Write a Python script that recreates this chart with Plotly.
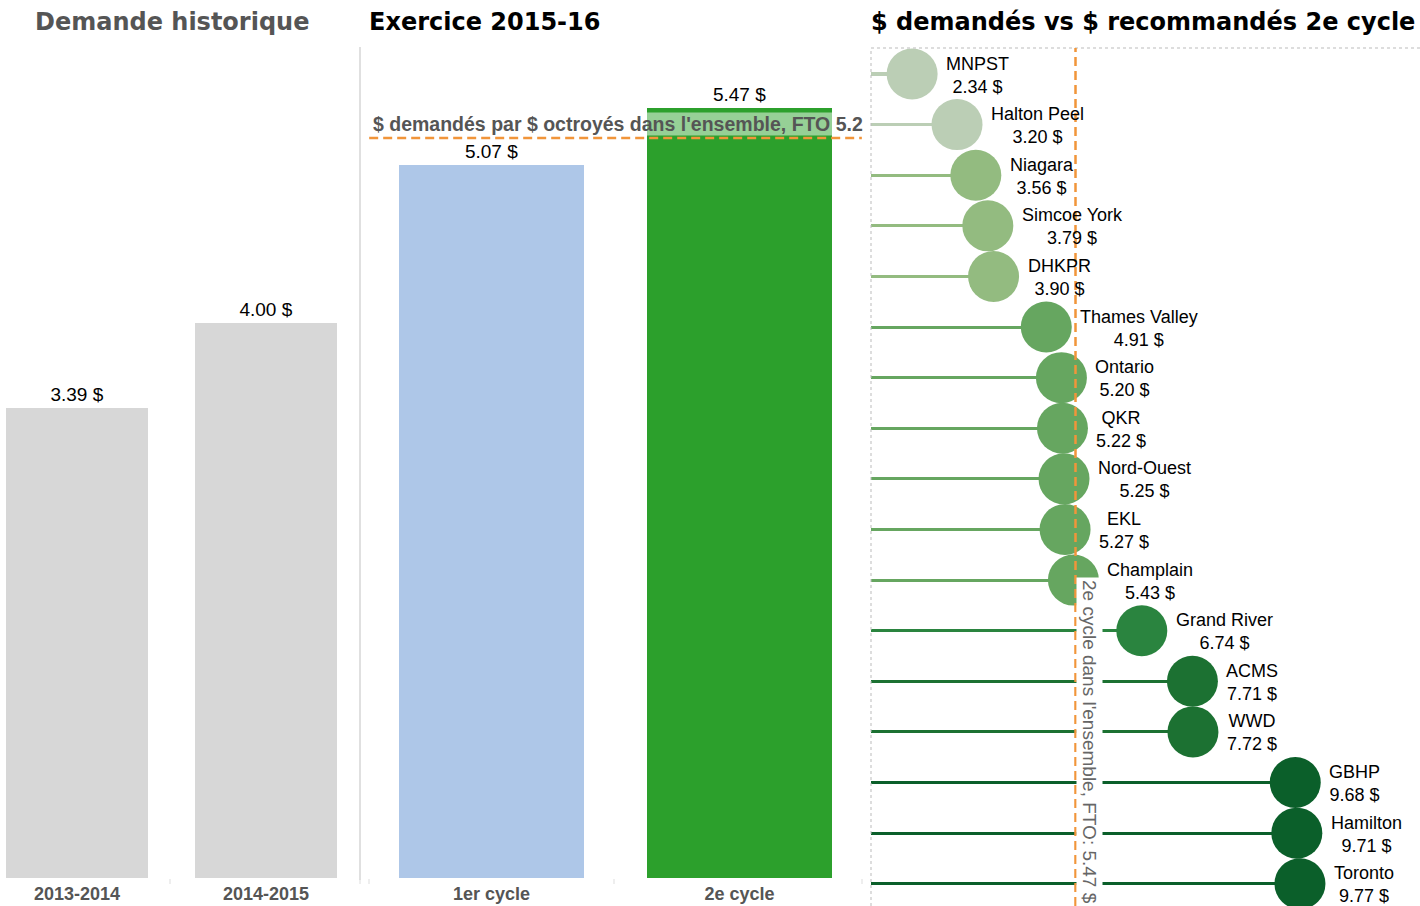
import plotly.graph_objects as go

# ---------------- data ----------------
hist_years = ["2013-2014", "2014-2015"]
hist_values = [3.39, 4.00]

cycle_names = ["1er cycle", "2e cycle"]
cycle_values = [5.07, 5.47]
overall_fto = 5.26

regions = ["MNPST", "Halton Peel", "Niagara", "Simcoe York", "DHKPR", "Thames Valley",
           "Ontario", "QKR", "Nord-Ouest", "EKL", "Champlain", "Grand River", "ACMS",
           "WWD", "GBHP", "Hamilton", "Toronto"]
region_values = [2.34, 3.20, 3.56, 3.79, 3.90, 4.91, 5.20, 5.22, 5.25, 5.27, 5.43,
                 6.74, 7.71, 7.72, 9.68, 9.71, 9.77]
cycle2_fto = 5.47

# colour bins (Tableau-like green steps)
def region_color(v):
    if v < 3.3:
        return "#BBCEB5"
    if v < 4.5:
        return "#93BB80"
    if v < 6.0:
        return "#66A660"
    if v < 7.0:
        return "#2A843F"
    if v < 9.0:
        return "#1C7132"
    return "#0B5F2A"

region_colors = [region_color(v) for v in region_values]

W, H = 1420, 906
def py(p):  # pixel y -> paper y
    return (H - p) / H

ORANGE = "#F1953A"
LABEL_FONT = dict(family="Liberation Sans, Arial", size=19, color="#000000")

fig = go.Figure()

# ---- panel 1: historical demand ----
fig.add_trace(go.Bar(
    x=hist_years, y=hist_values, xaxis="x", yaxis="y",
    marker=dict(color="#D7D7D7", line=dict(width=0)), width=0.75,
    text=[f"{v:.2f} $" for v in hist_values], textposition="outside",
    textfont=LABEL_FONT, cliponaxis=False, showlegend=False, hoverinfo="skip"))

# ---- panel 2: 2015-16 cycles ----
fig.add_trace(go.Bar(
    x=cycle_names, y=cycle_values, xaxis="x2", yaxis="y2",
    marker=dict(color=["#AEC7E8", "#2CA02C"], line=dict(width=0)), width=0.746,
    text=[f"{v:.2f} $" for v in cycle_values], textposition="outside",
    textfont=LABEL_FONT, cliponaxis=False, showlegend=False, hoverinfo="skip"))

# ---- panel 3: lollipop ----
fig.add_trace(go.Bar(
    x=region_values, y=regions, orientation="h", xaxis="x3", yaxis="y3",
    marker=dict(color=region_colors, line=dict(width=0)), width=0.06,
    showlegend=False, hoverinfo="skip"))
fig.add_trace(go.Scatter(
    x=region_values, y=regions, mode="markers", xaxis="x3", yaxis="y3",
    marker=dict(size=51, color=region_colors, line=dict(width=0), opacity=1),
    showlegend=False, hoverinfo="skip", cliponaxis=True))

annotations = []
for name, v in zip(regions, region_values):
    annotations.append(dict(
        x=v, y=name, xref="x3", yref="y3", text=f"{name}<br>{v:.2f} $",
        showarrow=False, xanchor="left", yanchor="middle", xshift=32, yshift=-1,
        align="center", font=dict(family="Liberation Sans, Arial", size=18, color="#000000")))

# rotated overall label for 2nd cycle
annotations.append(dict(
    x=cycle2_fto, xref="x3", y=py(577), yref="paper",
    text=f"2e cycle dans l'ensemble, FTO: {cycle2_fto:.2f} $", textangle=90,
    showarrow=False, xanchor="left", yanchor="top", xshift=1,
    bgcolor="#FFFFFF", borderpad=2,
    font=dict(family="Liberation Sans, Arial", size=19, color="#666666")))

# overall $ requested label panel 2
annotations.append(dict(
    x=0, xref="x2 domain", y=overall_fto, yref="y2",
    text="$ demandés par $ octroyés dans l'ensemble, FTO 5.2",
    showarrow=False, xanchor="left", yanchor="bottom", xshift=12, yshift=2,
    bgcolor="rgba(255,255,255,0.5)", borderpad=0,
    font=dict(family="Liberation Sans, Arial", size=19.5, color="#555555", weight="bold")))

# titles
TITLE_FONT = "DejaVu Sans"
annotations.append(dict(x=172 / W, y=py(22), xref="paper", yref="paper",
                        text="Demande historique", showarrow=False, xanchor="center",
                        yanchor="middle",
                        font=dict(family=TITLE_FONT, size=24, color="#555555", weight="bold")))
annotations.append(dict(x=367 / W, y=py(22), xref="paper", yref="paper",
                        text="Exercice 2015-16", showarrow=False, xanchor="left",
                        yanchor="middle",
                        font=dict(family=TITLE_FONT, size=24, color="#000000", weight="bold")))
annotations.append(dict(x=869 / W, y=py(22), xref="paper", yref="paper",
                        text="$ demandés vs $ recommandés 2e cycle", showarrow=False,
                        xanchor="left", yanchor="middle",
                        font=dict(family=TITLE_FONT, size=24, color="#000000", weight="bold")))

shapes = [
    # divider between panel 1 and 2
    dict(type="line", xref="paper", yref="paper", x0=360 / W, x1=360 / W,
         y0=py(880), y1=py(47), line=dict(color="#E0E0E0", width=2)),
    # overall dashed line panel 2
    dict(type="line", xref="x2 domain", yref="y2", x0=0.018, x1=0.984,
         y0=overall_fto, y1=overall_fto, line=dict(color=ORANGE, width=2.5, dash="9px,5px")),
    # panel 3 dotted border
    dict(type="line", xref="paper", yref="paper", x0=871 / W, x1=1.0,
         y0=py(48), y1=py(48), line=dict(color="#BBBBBB", width=1, dash="dot")),
    dict(type="line", xref="paper", yref="paper", x0=871 / W, x1=871 / W,
         y0=0, y1=py(48), line=dict(color="#BBBBBB", width=1, dash="dot")),
    # vertical 2nd cycle line
    dict(type="line", xref="x3", yref="y3 domain", x0=cycle2_fto, x1=cycle2_fto,
         y0=0, y1=1, line=dict(color=ORANGE, width=2.5, dash="9px,5px"), layer="above"),
]

# small tick marks under the bar panels
for xp in [170, 360, 369, 614, 862]:
    shapes.append(dict(type="line", xref="paper", yref="paper", x0=xp / W, x1=xp / W,
                       y0=py(884), y1=py(879), line=dict(color="#DDDDDD", width=1)))

bottom = py(878)
top = py(48)

cat_tickfont = dict(family="Liberation Sans Narrow, Arial Narrow, Liberation Sans", size=18,
                    color="#555555", weight="bold")

fig.update_layout(
    width=W, height=H,
    margin=dict(l=0, r=0, t=0, b=0),
    paper_bgcolor="#FFFFFF", plot_bgcolor="rgba(0,0,0,0)",
    bargap=0, showlegend=False,
    xaxis=dict(domain=[0, 360 / W], type="category", range=[-0.407, 1.497],
               showgrid=False, zeroline=False, showline=False, ticks="",
               tickfont=cat_tickfont, ticklabelstandoff=3, fixedrange=True),
    yaxis=dict(domain=[bottom, top], range=[0, 5.984], visible=False, fixedrange=True),
    xaxis2=dict(domain=[360 / W, 870 / W], type="category", range=[-0.530, 1.526],
                showgrid=False, zeroline=False, showline=False, ticks="",
                tickfont=cat_tickfont, ticklabelstandoff=3, anchor="y2", fixedrange=True),
    yaxis2=dict(domain=[bottom, top], range=[0, 5.899], visible=False, anchor="x2",
                fixedrange=True),
    xaxis3=dict(domain=[871 / W, 1.0], range=[1.552, 12.07], visible=False, anchor="y3",
                fixedrange=True),
    yaxis3=dict(domain=[0, top], type="category", categoryorder="array",
                categoryarray=regions, range=[16.44, -0.514], visible=False, anchor="x3",
                fixedrange=True),
    annotations=annotations,
    shapes=shapes,
)

fig.write_html(
    "out.html",
    config={"displayModeBar": False},
    post_script="document.body.style.margin='0';document.body.style.padding='0';"
                "document.body.style.overflow='hidden';",
)
